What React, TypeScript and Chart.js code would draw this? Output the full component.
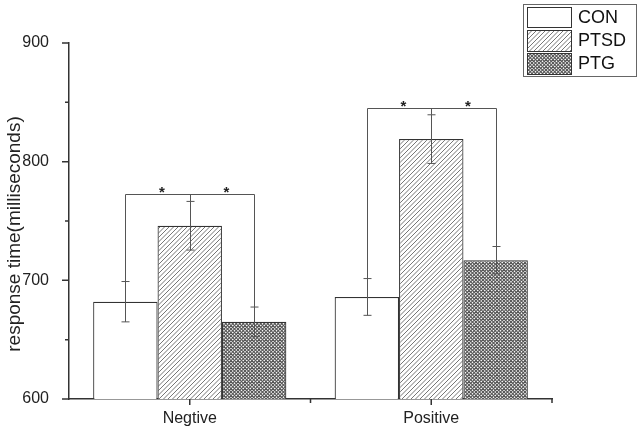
import React, { useEffect, useRef } from "react";
import { Chart, registerables } from "chart.js";

Chart.register(...registerables);

const categories = ["Negtive", "Positive"];
const seriesNames = ["CON", "PTSD", "PTG"];
const conMeans = [682, 686];
const ptsdMeans = [746, 819];
const ptgMeans = [665, 717];
const conErr = [17, 15.5];
const ptsdErr = [20.5, 20.5];
const ptgErr = [12.5, 11.5];
const bracketLevels = [773, 845];
const yMajorTicks = [600, 700, 800, 900];
const yMinorTicks = [650, 750, 850];
const yTitle = "response time(milliseconds)";

const FONT = "'Liberation Sans', Arial, sans-serif";

function makeHatch(): CanvasPattern | string {
  const c = document.createElement("canvas");
  const s = 9;
  c.width = s;
  c.height = s;
  const g = c.getContext("2d");
  if (!g) return "#fff";
  g.fillStyle = "#fff";
  g.fillRect(0, 0, s, s);
  g.strokeStyle = "#666";
  g.lineWidth = 0.9;
  for (let k = -2; k <= 6; k++) {
    const cst = k * 4.5;
    g.beginPath();
    g.moveTo(cst - 10, 10);
    g.lineTo(cst + 10, -10);
    g.stroke();
  }
  return g.createPattern(c, "repeat") || "#fff";
}

function makeCross(): CanvasPattern | string {
  const c = document.createElement("canvas");
  const s = 7;
  c.width = s;
  c.height = s;
  const g = c.getContext("2d");
  if (!g) return "#999";
  g.fillStyle = "#fff";
  g.fillRect(0, 0, s, s);
  g.strokeStyle = "#555";
  g.lineWidth = 1.1;
  for (let k = -4; k <= 8; k++) {
    const cst = k * 3.5;
    g.beginPath();
    g.moveTo(cst - 9, 9);
    g.lineTo(cst + 9, -9);
    g.stroke();
    g.beginPath();
    g.moveTo(cst - 9, -9);
    g.lineTo(cst + 9, 9);
    g.stroke();
  }
  return g.createPattern(c, "repeat") || "#999";
}

export default function App() {
  const ref = useRef<HTMLCanvasElement | null>(null);

  useEffect(() => {
    if (!ref.current) return;
    const hatch = makeHatch();
    const cross = makeCross();
    const fills = ["#ffffff", hatch, cross];
    const means = [conMeans, ptsdMeans, ptgMeans];
    const errs = [conErr, ptsdErr, ptgErr];

    const overlay = {
      id: "overlay",
      afterDatasetsDraw(chart: any) {
        const ctx = chart.ctx as CanvasRenderingContext2D;
        const ys = chart.scales.y;
        ctx.save();
        ctx.strokeStyle = "#555";
        ctx.lineWidth = 1;
        const xs: number[][] = [];
        const tops: number[][] = [];
        errs.forEach((errArr, i) => {
          const meta = chart.getDatasetMeta(i);
          xs.push([]);
          tops.push([]);
          meta.data.forEach((bar: any, j: number) => {
            const m = means[i][j];
            const e = errArr[j];
            const x = Math.round(bar.x) + 0.5;
            const yt = ys.getPixelForValue(m + e);
            const yb = ys.getPixelForValue(m - e);
            xs[i].push(x);
            tops[i].push(yt);
            ctx.beginPath();
            ctx.moveTo(x, yt);
            ctx.lineTo(x, yb);
            ctx.moveTo(x - 4, yt);
            ctx.lineTo(x + 4, yt);
            ctx.moveTo(x - 4, yb);
            ctx.lineTo(x + 4, yb);
            ctx.stroke();
          });
        });
        // significance brackets
        bracketLevels.forEach((lvl, j) => {
          const by = Math.round(ys.getPixelForValue(lvl)) + 0.5;
          const x0 = xs[0][j];
          const x1 = xs[1][j];
          const x2 = xs[2][j];
          ctx.beginPath();
          ctx.moveTo(x0, tops[0][j]);
          ctx.lineTo(x0, by);
          ctx.lineTo(x2, by);
          ctx.lineTo(x2, tops[2][j]);
          ctx.moveTo(x1, by);
          ctx.lineTo(x1, tops[1][j]);
          ctx.stroke();
          ctx.fillStyle = "#222";
          ctx.font = `bold 15px ${FONT}`;
          ctx.textAlign = "center";
          ctx.textBaseline = "alphabetic";
          ctx.fillText("*", (x0 + x1) / 2 + 4, by + 2);
          ctx.fillText("*", (x1 + x2) / 2 + 4, by + 2);
        });
        ctx.restore();
      },
      afterDraw(chart: any) {
        const ctx = chart.ctx as CanvasRenderingContext2D;
        const ys = chart.scales.y;
        const xsc = chart.scales.x;
        const area = chart.chartArea;
        ctx.save();
        // y ticks
        ctx.strokeStyle = "#333";
        ctx.lineWidth = 1.5;
        ctx.beginPath();
        yMajorTicks.forEach((v) => {
          const y = ys.getPixelForValue(v);
          ctx.moveTo(area.left - 7, y);
          ctx.lineTo(area.left, y);
        });
        yMinorTicks.forEach((v) => {
          const y = ys.getPixelForValue(v);
          ctx.moveTo(area.left - 4, y);
          ctx.lineTo(area.left, y);
        });
        // x ticks
        categories.forEach((_, i) => {
          const x = xsc.getPixelForValue(i);
          ctx.moveTo(x, area.bottom);
          ctx.lineTo(x, area.bottom + 6);
        });
        const step = (area.right - area.left) / categories.length;
        for (let k = 1; k <= categories.length; k++) {
          const x = area.left + k * step;
          ctx.moveTo(x, area.bottom);
          ctx.lineTo(x, area.bottom + 4);
        }
        ctx.stroke();

        // y title
        ctx.fillStyle = "#222";
        ctx.font = `19px ${FONT}`;
        ctx.textAlign = "center";
        ctx.textBaseline = "middle";
        ctx.save();
        ctx.translate(15, 234);
        ctx.rotate(-Math.PI / 2);
        ctx.fillText(yTitle, 0, 0);
        ctx.restore();

        // legend
        ctx.strokeStyle = "#666";
        ctx.lineWidth = 1;
        ctx.strokeRect(523.5, 4.5, 113, 72);
        const rows = [
          { y: 7, h: 20 },
          { y: 30, h: 21 },
          { y: 53, h: 21 },
        ];
        seriesNames.forEach((name, i) => {
          const r = rows[i];
          ctx.fillStyle = fills[i] as any;
          ctx.fillRect(527, r.y, 44, r.h);
          ctx.strokeStyle = "#333";
          ctx.lineWidth = 1;
          ctx.strokeRect(527.5, r.y + 0.5, 44, r.h);
          ctx.fillStyle = "#111";
          ctx.font = `18px ${FONT}`;
          ctx.textAlign = "left";
          ctx.textBaseline = "middle";
          ctx.fillText(name, 578, r.y + r.h / 2 + 1);
        });
        ctx.restore();
      },
    };

    const chart = new Chart(ref.current, {
      type: "bar",
      data: {
        labels: categories,
        datasets: seriesNames.map((name, i) => ({
          label: name,
          data: means[i],
          backgroundColor: fills[i] as any,
          borderColor: "#333",
          borderWidth: 1.2,
          barPercentage: 1,
          categoryPercentage: 0.8,
        })),
      },
      options: {
        responsive: false,
        animation: false,
        devicePixelRatio: 1,
        layout: { padding: { top: 43, right: 89, left: 0, bottom: 0 } },
        plugins: {
          legend: { display: false },
          tooltip: { enabled: false },
          title: { display: false },
        },
        scales: {
          x: {
            type: "category",
            offset: true,
            grid: { display: false },
            border: { display: true, color: "#333", width: 1.5 },
            ticks: {
              font: { family: FONT, size: 16 },
              color: "#222",
              padding: 2,
              maxRotation: 0,
            },
            afterFit: (scale: any) => {
              scale.height = 34;
            },
          },
          y: {
            min: 600,
            max: 900,
            grid: { display: false },
            border: { display: true, color: "#333", width: 1.5 },
            ticks: {
              stepSize: 100,
              font: { family: FONT, size: 16 },
              color: "#222",
              padding: 12,
            },
            afterFit: (scale: any) => {
              scale.width = 69;
            },
          },
        },
      },
      plugins: [overlay],
    } as any);

    return () => chart.destroy();
  }, []);

  return (
    <div style={{ position: "absolute", left: 0, top: 0, width: 641, height: 433, background: "#fff" }}>
      <canvas ref={ref} width={641} height={433} style={{ display: "block", width: 641, height: 433 }} />
    </div>
  );
}
